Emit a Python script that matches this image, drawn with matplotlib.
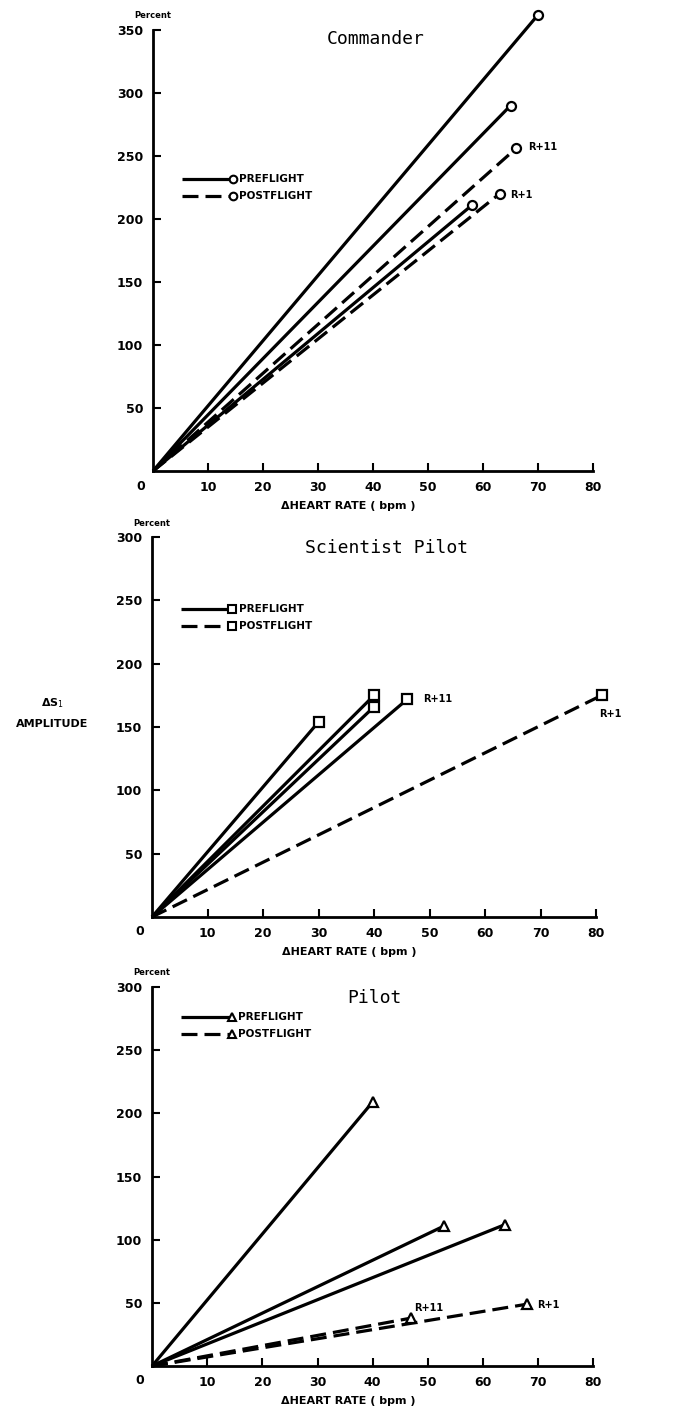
import matplotlib
matplotlib.use("Agg")
import matplotlib.pyplot as plt

# Commander (circles)
cdr_x = [70, 65, 58, 66, 63]
cdr_y = [362, 290, 211, 256, 220]
cdr_style = ["pre", "pre", "pre", "post", "post"]
cdr_tags = {3: "R+11", 4: "R+1"}

# Scientist Pilot (squares)
spt_x = [30, 40, 40, 46, 81]
spt_y = [154, 175, 166, 172, 175]
spt_style = ["pre", "pre", "pre", "pre", "post"]
spt_tags = {3: "R+11", 4: "R+1"}

# Pilot (triangles)
plt_x = [40, 53, 64, 47, 68]
plt_y = [209, 111, 112, 38, 49]
plt_style = ["pre", "pre", "pre", "post", "post"]
plt_tags = {3: "R+11", 4: "R+1"}

xticks = [10, 20, 30, 40, 50, 60, 70, 80]

DASH = (0, (5, 2.2))


def draw_panel(ax, xs, ys, styles, tags, marker, ymax, title, title_y,
               leg_y, tag_pos):
    for i, (x, y, s) in enumerate(zip(xs, ys, styles)):
        ls = "-" if s == "pre" else DASH
        ax.plot([0, x], [0, y], color="black", lw=2.3, linestyle=ls,
                clip_on=False, solid_capstyle="butt", dash_capstyle="butt")
        ax.plot([x], [y], marker=marker, ms=6.5, mfc="white", mec="black",
                mew=1.6, clip_on=False, zorder=5)
        if i in tags:
            tx, ty = tag_pos[i]
            ax.text(tx, ty, tags[i], fontsize=7, fontweight="bold",
                    ha="left", va="center", clip_on=False)

    # legend drawn by hand, as in the original
    for ly, ls, lab in [(leg_y[0], "-", "PREFLIGHT"), (leg_y[1], DASH, "POSTFLIGHT")]:
        ax.plot([5.3, 14.5], [ly, ly], color="black", lw=2.3, linestyle=ls,
                solid_capstyle="butt")
        ax.plot([14.5], [ly], marker=marker, ms=5.5, mfc="white", mec="black", mew=1.5)
        ax.text(15.6, ly, lab, fontsize=7.5, fontweight="bold", va="center", ha="left")

    ax.text(title_y[0], title_y[1], title, family="DejaVu Sans Mono",
            fontsize=13, ha="center", va="center")

    ax.set_xlim(0, 80)
    ax.set_ylim(0, ymax)
    ax.set_xticks(xticks)
    ax.set_yticks(list(range(50, ymax + 1, 50)))
    ax.tick_params(direction="in", length=6, width=1.5, labelsize=9, pad=7)
    for lab in ax.get_xticklabels() + ax.get_yticklabels():
        lab.set_fontweight("bold")
    for sp in ["top", "right"]:
        ax.spines[sp].set_visible(False)
    for sp in ["left", "bottom"]:
        ax.spines[sp].set_linewidth(2)

    ax.text(-2.2, 0, "0", fontsize=9, fontweight="bold", ha="center", va="top",
            transform=ax.transData, clip_on=False).set_y(-ymax * 0.02)
    ax.annotate("Percent", xy=(0, 1), xycoords="axes fraction", xytext=(0, 14),
                textcoords="offset pixels", fontsize=6, fontweight="bold",
                ha="center", va="center")
    ax.annotate("ΔHEART RATE ( bpm )", xy=(35.5, 0), xycoords=("data", "axes fraction"),
                xytext=(0, -35), textcoords="offset pixels", fontsize=8,
                fontweight="bold", ha="center", va="center")


fig = plt.figure(figsize=(6.94, 14.14), dpi=100)
ax1 = fig.add_axes([0.2205, 0.6669, 0.634, 0.3119])
ax2 = fig.add_axes([0.219, 0.3515, 0.640, 0.2687])
ax3 = fig.add_axes([0.219, 0.0339, 0.636, 0.2681])

draw_panel(ax1, cdr_x, cdr_y, cdr_style, cdr_tags, "o", 350, "Commander",
           (40.4, 343), (232, 218), {3: (68.2, 257), 4: (65, 219)})
draw_panel(ax2, spt_x, spt_y, spt_style, spt_tags, "s", 300, "Scientist Pilot",
           (42.2, 291), (243, 230), {3: (48.9, 172), 4: (80.5, 160)})
draw_panel(ax3, plt_x, plt_y, plt_style, plt_tags, "^", 300, "Pilot",
           (40.4, 291), (276, 263), {3: (47.6, 46), 4: (69.8, 48)})

ax2.text(-0.225, 169, "ΔS$_1$", transform=ax2.get_yaxis_transform(),
         fontsize=8, fontweight="bold", ha="center", va="center")
ax2.text(-0.225, 152, "AMPLITUDE", transform=ax2.get_yaxis_transform(),
         fontsize=8, fontweight="bold", ha="center", va="center")

fig.savefig("out.png", dpi=100)
